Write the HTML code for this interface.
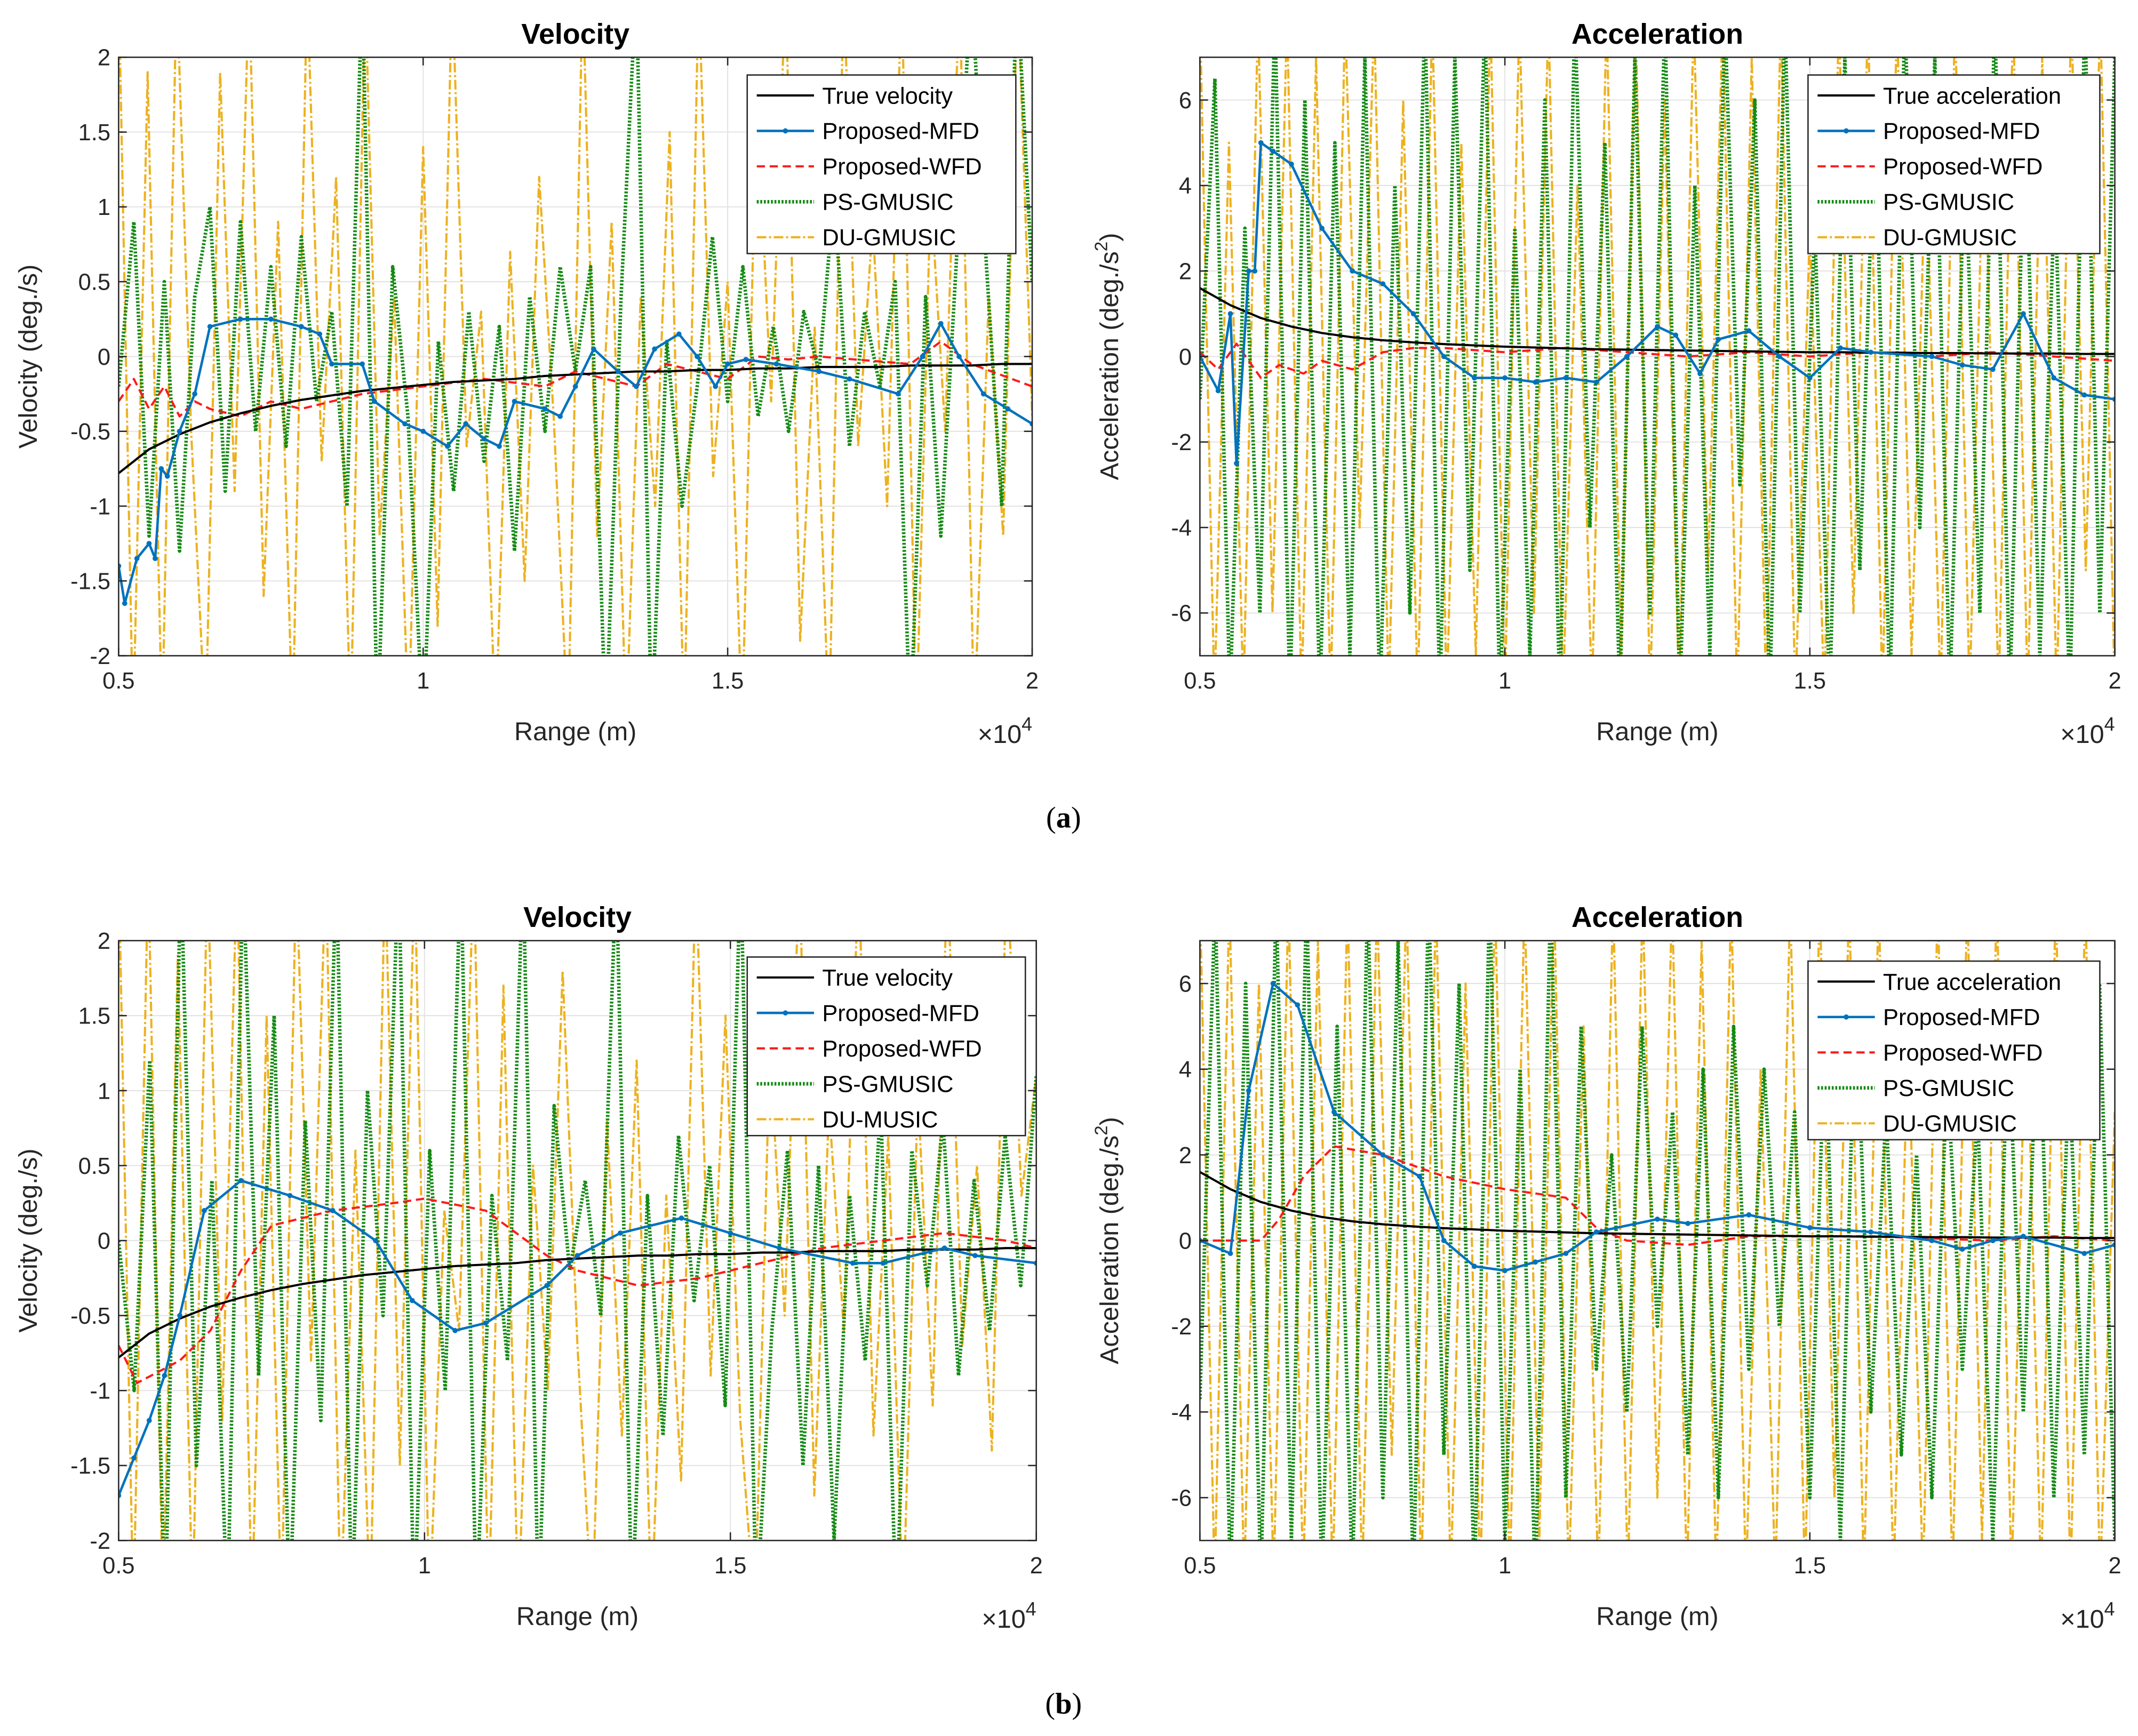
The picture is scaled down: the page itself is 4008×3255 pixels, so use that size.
<!DOCTYPE html>
<html><head><meta charset="utf-8"><style>
html,body{margin:0;padding:0;background:#fff;}
svg{display:block;font-family:"Liberation Sans",sans-serif;}
</style></head><body>
<svg id="fig" xmlns="http://www.w3.org/2000/svg" width="4008" height="3255" viewBox="0 0 1568 1273.4">
<rect width="1568" height="1273.4" fill="#fff"/>
<text x="780" y="607" font-family="Liberation Serif,serif" font-size="22" text-anchor="middle">(<tspan font-weight="bold">a</tspan>)</text>
<text x="780" y="1257" font-family="Liberation Serif,serif" font-size="22" text-anchor="middle">(<tspan font-weight="bold">b</tspan>)</text>
</svg>
<script>
// ---------- data ----------
const vTicks = [-2,-1.5,-1,-0.5,0,0.5,1,1.5,2];
const vTickLabels = ["-2","-1.5","-1","-0.5","0","0.5","1","1.5","2"];
const aTicks = [-6,-4,-2,0,2,4,6];
const aTickLabels = ["-6","-4","-2","0","2","4","6"];
const xTicks = [5000,10000,15000,20000];
const xTickLabels = ["0.5","1","1.5","2"];

const trueX = [5000,5500,6000,6500,7000,7500,8000,8500,9000,9500,10000,10500,11000,11500,12000,12500,13000,13500,14000,14500,15000,15500,16000,16500,17000,17500,18000,18500,19000,19500,20000];
const trueVel = [-0.78,-0.62,-0.52,-0.44,-0.38,-0.33,-0.29,-0.26,-0.23,-0.21,-0.19,-0.17,-0.16,-0.15,-0.13,-0.12,-0.11,-0.10,-0.10,-0.09,-0.09,-0.08,-0.08,-0.07,-0.07,-0.07,-0.06,-0.06,-0.06,-0.05,-0.05];
const trueAcc = [1.6,1.2,0.9,0.7,0.55,0.45,0.38,0.33,0.29,0.26,0.23,0.21,0.19,0.17,0.16,0.15,0.14,0.13,0.12,0.11,0.1,0.1,0.09,0.09,0.08,0.08,0.07,0.07,0.07,0.06,0.06];

const mfdTLx = [5000,5100,5300,5500,5600,5700,5800,6000,6250,6500,7000,7500,8000,8300,8500,9000,9200,9700,10000,10400,10700,11000,11250,11500,12000,12250,12500,12800,13200,13500,13800,14200,14500,14800,15000,15300,15800,16500,17000,17800,18200,18500,18800,19200,19600,20000];
const mfdTL = [-1.4,-1.65,-1.35,-1.25,-1.35,-0.75,-0.8,-0.5,-0.25,0.2,0.25,0.25,0.2,0.15,-0.05,-0.05,-0.3,-0.45,-0.5,-0.6,-0.45,-0.55,-0.6,-0.3,-0.35,-0.4,-0.2,0.05,-0.1,-0.2,0.05,0.15,0.0,-0.2,-0.05,-0.02,-0.05,-0.1,-0.15,-0.25,0.0,0.22,0.0,-0.25,-0.35,-0.45];
const wfdTLx = [5000,5250,5500,5750,6000,6250,6500,7000,7500,8000,8500,9000,10000,11000,12000,12500,13500,14000,15000,15500,16000,16500,18000,18500,19000,20000];
const wfdTL = [-0.3,-0.15,-0.35,-0.2,-0.4,-0.3,-0.35,-0.4,-0.3,-0.35,-0.3,-0.25,-0.2,-0.15,-0.2,-0.1,-0.2,-0.05,-0.15,0.0,-0.02,0.0,-0.05,0.1,-0.05,-0.2];
const psTL = [-0.2,0.9,-1.2,0.5,-1.3,0.4,1.0,-0.9,0.9,-0.5,0.6,-0.6,0.8,-0.3,0.3,-1.0,2.5,-2.5,0.6,-0.4,-2.5,0.1,-0.9,0.3,-0.7,0.2,-1.3,0.4,-0.5,0.6,-0.1,0.6,-2.5,0.4,2.5,-2.5,0.1,-1.0,-0.2,0.8,-0.3,0.6,-0.4,0.2,-0.5,0.3,-0.1,1.1,-0.6,0.3,-0.2,0.5,-2.5,0.4,-1.2,0.6,2.5,0.6,-1.0,2.5,0.5];
const duTL = [2.5,-2.5,1.9,-2.5,2.5,-0.5,-2.5,1.9,-0.9,2.5,-1.6,0.9,-2.5,2.5,-0.7,1.2,-2.5,2.5,-1.2,0.4,-2.5,1.4,-1.8,2.5,-0.6,0.3,-2.5,0.7,-1.5,1.2,-0.4,-2.5,2.5,-1.2,0.9,-2.5,0.4,-1.0,1.5,-2.5,2.5,-0.8,0.5,-2.5,1.8,-0.3,2.5,-1.9,0.2,-2.5,2.5,-0.6,0.9,-1.0,2.5,-2.5,1.1,-0.5,2.5,-2.5,0.4,-1.2,2.5,-0.4];

const mfdTRx = [5000,5300,5500,5600,5800,5900,6000,6200,6500,7000,7500,8000,8500,9000,9500,10000,10500,11000,11500,12000,12500,12800,13200,13500,14000,14500,15000,15500,16000,17000,17500,18000,18500,19000,19500,20000];
const mfdTR = [0,-0.8,1,-2.5,2,2,5,4.8,4.5,3,2,1.7,1.0,0,-0.5,-0.5,-0.6,-0.5,-0.6,0.0,0.7,0.5,-0.4,0.4,0.6,0.0,-0.5,0.2,0.1,0.0,-0.2,-0.3,1.0,-0.5,-0.9,-1.0];
const wfdTRx = [5000,5300,5600,6000,6300,6700,7000,7500,8000,8500,9000,10000,11000,12000,13000,14000,15000,16000,17000,18000,19000,20000];
const wfdTR = [0.1,-0.3,0.3,-0.5,-0.2,-0.4,-0.1,-0.3,0.1,0.2,0.2,0.1,0.2,0.1,0.0,0.1,0.0,0.1,0.0,0.1,0.0,-0.1];
const psTR = [-1,6.5,-8,3,-6,8,-8,6,-8,5,-7,7,-8,4,-6,8,-8,7,-5,8,-8,3,-7,6,-8,8,-4,5,-8,7,-6,8,-8,4,-7,8,-3,6,-8,8,-6,3,-8,7,-5,6,-8,8,-4,7,-8,5,-6,8,-8,6,-7,4,-8,8,-6,7];
const duTR = [8,-8,5,-8,8,-6,8,-8,7,-8,8,-4,8,-8,6,-8,8,-8,5,-7,8,-8,8,-6,8,-8,4,-8,8,-7,8,-8,6,-8,8,-5,8,-8,7,-8,8,-8,3,-8,8,-6,8,-8,8,-7,5,-8,8,-8,6,-8,8,-8,7,-8,8,-5,8,-8];

const mfdBLx = [5000,5250,5500,5750,6000,6400,7000,7800,8500,9200,9800,10500,11000,12000,12500,13200,14200,15000,15800,17000,17500,18500,19000,20000];
const mfdBL = [-1.7,-1.45,-1.2,-0.9,-0.5,0.2,0.4,0.3,0.2,0.0,-0.4,-0.6,-0.55,-0.3,-0.1,0.05,0.15,0.05,-0.05,-0.15,-0.15,-0.05,-0.1,-0.15];
const wfdBLx = [5000,5300,6000,6500,7000,7500,8500,9500,10000,11000,12000,12500,13500,14500,15500,16500,17500,18500,19500,20000];
const wfdBL = [-0.7,-0.95,-0.8,-0.6,-0.2,0.1,0.2,0.25,0.28,0.2,-0.1,-0.2,-0.3,-0.25,-0.15,-0.05,0.0,0.05,0.0,-0.05];
const psBL = [0.0,-1.0,1.2,-2.5,2.5,-1.5,0.4,-2.5,2.5,-0.9,1.5,-2.5,0.8,-1.2,2.5,-2.5,1.0,-0.5,2.5,-2.5,0.6,-1.0,2.5,-2.5,0.3,-0.8,2.5,-2.5,0.9,-0.2,0.4,-0.5,2.5,-2.5,0.3,-1.3,0.7,-0.4,0.5,-1.1,2.5,-2.5,-0.6,0.6,-1.5,0.5,-2.0,0.3,-0.8,0.9,-2.5,0.6,-0.3,0.8,-0.9,0.4,-0.6,0.7,-0.3,1.1];
const duBL = [2.5,-2.5,2.5,-2.5,1.9,-2.5,2.5,-1.2,2.5,-2.5,1.5,-2.5,2.5,-0.8,2.5,-2.5,0.6,-2.5,2.5,-1.5,2.5,-2.5,0.2,-0.6,2.5,-2.5,1.7,-2.5,0.5,-1.0,1.8,-0.7,-2.5,0.8,-1.3,1.2,-2.5,0.3,-1.6,2.5,-0.9,1.5,-1.2,-2.5,1.3,-0.5,2.5,-1.7,0.9,-0.6,2.5,-1.3,0.7,-2.5,1.0,-1.1,2.5,-0.7,0.5,-1.4,2.5,0.3,1.1];

const mfdBRx = [5000,5500,5800,6200,6600,7200,8000,8600,9000,9500,10000,10500,11000,11500,12500,13000,14000,15000,16000,17000,17500,18000,18500,19500,20000];
const mfdBR = [0,-0.3,3.5,6,5.5,3,2,1.5,0,-0.6,-0.7,-0.5,-0.3,0.2,0.5,0.4,0.6,0.3,0.2,0,-0.2,0,0.1,-0.3,-0.1];
const wfdBRx = [5000,6000,6300,6700,7200,8000,9000,10000,11000,11500,12000,13000,14000,16000,18000,19000,20000];
const wfdBR = [0,0,0.5,1.5,2.2,2.0,1.5,1.2,1.0,0.3,0,-0.1,0.1,0.1,0,0.1,0.0];
const psBR = [-3.7,8,-8,6,-8,8,-7,8,-8,5,-8,8,-6,7,-8,8,-5,6,-8,8,-7,4,-8,8,-6,5,-3,2,-4,5,-2,3,-5,4,-6,5,-3,4,-2,3,-6,5,-7,6,-4,3,-5,2,-6,4,-3,3,-7,5,-4,6,-6,4,-5,6,-7];
const duBR = [8,-8,8,-8,6,-8,8,-8,7,-8,8,-8,8,-5,8,-8,8,-8,6,-8,8,-8,8,-7,8,-8,5,-8,8,-8,8,-6,8,-8,7,-8,8,-8,4,-8,8,-8,8,-6,8,-8,8,-8,5,-8,8,-8,8,-7,8,-8,6,-8,8,-8,8,-8,3];

// ---------- drawing ----------
const NS = "http://www.w3.org/2000/svg";
const fig = document.getElementById("fig");
function mk(tag, attrs, parent){ const e=document.createElementNS(NS,tag); for(const k in attrs) e.setAttribute(k,attrs[k]); (parent||fig).appendChild(e); return e; }
function linspace(n){ const a=[]; for(let i=0;i<n;i++) a.push(5000+15000*i/(n-1)); return a; }

const styles = {
  du:{stroke:"#EDB120",w:1.6,dash:"7 2 1.5 2"},
  ps:{stroke:"#138a13",w:2.6,dash:"1.4 1.2"},
  wfd:{stroke:"#ff1a1a",w:1.6,dash:"6 3.5"},
  tru:{stroke:"#000",w:1.6,dash:""},
  mfd:{stroke:"#0072BD",w:1.8,dash:""}
};

let panelCount = 0;
function drawPanel(p){
  panelCount++;
  const g = mk("g",{});
  
  
  const X = v => p.x0 + (v-5000)/15000*(p.x1-p.x0);
  const Y = v => p.y1 - (v-p.ymin)/(p.ymax-p.ymin)*(p.y1-p.y0);
  const cid = "clip"+panelCount;
  const cp = mk("clipPath",{id:cid},g);
  mk("rect",{x:p.x0,y:p.y0,width:p.x1-p.x0,height:p.y1-p.y0},cp);
  p.yt.forEach(v=>{ const l=mk("line",{x1:p.x0,x2:p.x1,y1:Y(v),y2:Y(v),stroke:"#e3e3e3","stroke-width":0.8},g);
    
     });
  xTicks.forEach(v=>{ const l=mk("line",{x1:X(v),x2:X(v),y1:p.y0,y2:p.y1,stroke:"#e3e3e3","stroke-width":0.8},g);
    
     });
  const plot = mk("g",{"clip-path":"url(#"+cid+")"},g);
  function series(xs, ys, st, nm, markers){
    const d = ys.map((v,i)=>(i?"L":"M")+X(xs[i]).toFixed(2)+","+Y(v).toFixed(2)).join("");
    const path = mk("path",{d:d,fill:"none",stroke:st.stroke,"stroke-width":st.w,"stroke-dasharray":st.dash,"stroke-linejoin":"round"},plot);
    
    
    if(markers){ ys.forEach((v,i)=>{ const c=mk("circle",{cx:X(xs[i]),cy:Y(v),r:1.9,fill:st.stroke},plot);
      
       }); }
  }
  series(linspace(p.du.length), p.du, styles.du, "du-gmusic-line");
  series(linspace(p.ps.length), p.ps, styles.ps, "ps-gmusic-line");
  series(p.wx, p.wfd, styles.wfd, "proposed-wfd-line");
  series(trueX, p.tru, styles.tru, "true-line");
  series(p.mx, p.mfd, styles.mfd, "proposed-mfd-line", true);
  const box = mk("rect",{x:p.x0,y:p.y0,width:p.x1-p.x0,height:p.y1-p.y0,fill:"none",stroke:"#262626","stroke-width":1},g);
  
  
  p.yt.forEach((v,i)=>{
    mk("line",{x1:p.x0,x2:p.x0+6,y1:Y(v),y2:Y(v),stroke:"#262626","stroke-width":1},g);
    mk("line",{x1:p.x1,x2:p.x1-6,y1:Y(v),y2:Y(v),stroke:"#262626","stroke-width":1},g);
    const t = mk("text",{x:p.x0-6,y:Y(v)+6,"font-size":17,"text-anchor":"end",fill:"#262626"},g);
    t.textContent = p.ytl[i];
    
    
  });
  xTicks.forEach((v,i)=>{
    mk("line",{x1:X(v),x2:X(v),y1:p.y1,y2:p.y1-6,stroke:"#262626","stroke-width":1},g);
    mk("line",{x1:X(v),x2:X(v),y1:p.y0,y2:p.y0+6,stroke:"#262626","stroke-width":1},g);
    const t = mk("text",{x:X(v),y:p.y1+24,"font-size":17,"text-anchor":"middle",fill:"#262626"},g);
    t.textContent = xTickLabels[i];
    
    
  });
  const ex = mk("text",{x:p.x1,y:p.y1+64,"font-size":19,"text-anchor":"end",fill:"#262626"},g);
  ex.innerHTML = '×10<tspan font-size="14" dy="-9">4</tspan>';
  
  
  const xl = mk("text",{x:(p.x0+p.x1)/2,y:p.y1+62,"font-size":19,"text-anchor":"middle",fill:"#262626"},g);
  xl.textContent = "Range (m)";
  
  
  const yl = mk("text",{x:0,y:0,"font-size":19,"text-anchor":"middle",fill:"#262626",transform:"translate("+(p.x0-60)+","+((p.y0+p.y1)/2)+") rotate(-90)"},g);
  yl.innerHTML = p.ylab;
  
  
  const tt = mk("text",{x:(p.x0+p.x1)/2,y:p.y0-10,"font-size":21,"font-weight":"bold","text-anchor":"middle",fill:"#000"},g);
  tt.textContent = p.title;
  
  
  const L = p.leg;
  const lg = mk("g",{},g);
  
  
  mk("rect",{x:L.x,y:L.y,width:L.w,height:131,fill:"#fff",stroke:"#262626","stroke-width":1},lg);
  const ents = [[styles.tru,L.names[0]],[styles.mfd,L.names[1]],[styles.wfd,L.names[2]],[styles.ps,L.names[3]],[styles.du,L.names[4]]];
  ents.forEach((e,i)=>{
    const yy = L.y+15+i*26;
    const ent = mk("g",{},lg);
    
    
    mk("line",{x1:L.x+7,x2:L.x+49,y1:yy,y2:yy,stroke:e[0].stroke,"stroke-width":e[0].w,"stroke-dasharray":e[0].dash},ent);
    if(i===1) mk("circle",{cx:L.x+28,cy:yy,r:1.9,fill:e[0].stroke},ent);
    const t = mk("text",{x:L.x+55,y:yy+6,"font-size":17,fill:"#000"},ent);
    t.textContent = e[1];
  });
}

const velLab = 'Velocity (deg./s)';
const accLab = 'Acceleration (deg./s<tspan font-size="13" dy="-8">2</tspan><tspan dy="8">)</tspan>';

drawPanel({name:"velocity-chart-a",title:"Velocity",x0:87,x1:757,y0:42,y1:481,ymin:-2,ymax:2,yt:vTicks,ytl:vTickLabels,ylab:velLab,
  du:duTL,ps:psTL,wx:wfdTLx,wfd:wfdTL,tru:trueVel,mx:mfdTLx,mfd:mfdTL,
  leg:{x:548,y:55,w:197,names:["True velocity","Proposed-MFD","Proposed-WFD","PS-GMUSIC","DU-GMUSIC"]}});
drawPanel({name:"acceleration-chart-a",title:"Acceleration",x0:880,x1:1551,y0:42,y1:481,ymin:-7,ymax:7,yt:aTicks,ytl:aTickLabels,ylab:accLab,
  du:duTR,ps:psTR,wx:wfdTRx,wfd:wfdTR,tru:trueAcc,mx:mfdTRx,mfd:mfdTR,
  leg:{x:1326,y:55,w:214,names:["True acceleration","Proposed-MFD","Proposed-WFD","PS-GMUSIC","DU-GMUSIC"]}});
drawPanel({name:"velocity-chart-b",title:"Velocity",x0:87,x1:760,y0:690,y1:1130,ymin:-2,ymax:2,yt:vTicks,ytl:vTickLabels,ylab:velLab,
  du:duBL,ps:psBL,wx:wfdBLx,wfd:wfdBL,tru:trueVel,mx:mfdBLx,mfd:mfdBL,
  leg:{x:548,y:702,w:204,names:["True velocity","Proposed-MFD","Proposed-WFD","PS-GMUSIC","DU-MUSIC"]}});
drawPanel({name:"acceleration-chart-b",title:"Acceleration",x0:880,x1:1551,y0:690,y1:1130,ymin:-7,ymax:7,yt:aTicks,ytl:aTickLabels,ylab:accLab,
  du:duBR,ps:psBR,wx:wfdBRx,wfd:wfdBR,tru:trueAcc,mx:mfdBRx,mfd:mfdBR,
  leg:{x:1326,y:705,w:214,names:["True acceleration","Proposed-MFD","Proposed-WFD","PS-GMUSIC","DU-GMUSIC"]}});
</script>
</body></html>
